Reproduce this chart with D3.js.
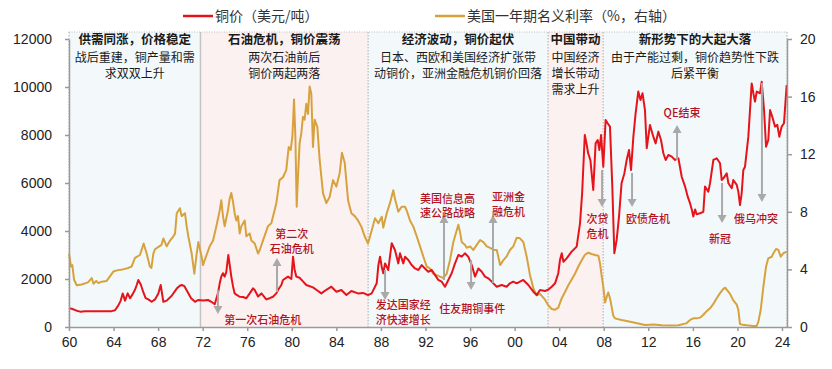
<!DOCTYPE html>
<html>
<head>
<meta charset="utf-8">
<script src="https://cdn.jsdelivr.net/npm/d3@7"></script>
<style>
  body { margin: 0; background: #fff; }
  #chart text { font-family: "Noto Sans CJK SC", "Liberation Sans", sans-serif; }
  #chart .axis text { font-family: "Liberation Sans", Arial, sans-serif; font-size: 14px; fill: #222; }
  #chart .axis path, #chart .axis line { stroke: #9a9a9a; stroke-width: 1.5; }
</style>
</head>
<body>
<div id="chart"></div>
<script>
// DATA
// copper price, USD / t
const copperYears = [
  1960.00, 1960.24, 1960.69, 1961.00, 1961.44, 1962.04, 1962.63, 1963.23, 1963.83, 1964.13,
  1964.43, 1964.64, 1964.82, 1965.03, 1965.27, 1965.48, 1965.69, 1965.92, 1966.08, 1966.22,
  1966.46, 1966.67, 1966.88, 1967.12, 1967.42, 1967.72, 1968.02, 1968.23, 1968.47, 1968.77,
  1969.22, 1969.67, 1969.95, 1970.12, 1970.36, 1970.66, 1970.96, 1971.32, 1971.58, 1972.03,
  1972.48, 1972.78, 1973.08, 1973.37, 1973.53, 1973.67, 1973.82, 1973.97, 1974.12, 1974.30,
  1974.45, 1974.57, 1974.72, 1974.87, 1975.02, 1975.32, 1975.62, 1975.92, 1976.22, 1976.52,
  1976.67, 1976.97, 1977.27, 1977.71, 1978.01, 1978.31, 1978.61, 1978.76, 1979.06, 1979.21,
  1979.66, 1979.96, 1980.11, 1980.25, 1980.40, 1980.70, 1981.00, 1981.30, 1981.90, 1982.20,
  1982.65, 1983.10, 1983.55, 1984.00, 1984.45, 1984.90, 1985.35, 1985.94, 1986.39, 1986.84,
  1987.17, 1987.62, 1987.77, 1987.92, 1988.07, 1988.21, 1988.37, 1988.66, 1988.81, 1988.97,
  1989.26, 1989.41, 1989.56, 1989.71, 1990.01, 1990.16, 1990.46, 1990.76, 1991.06, 1991.36,
  1991.66, 1991.95, 1992.25, 1992.56, 1992.85, 1993.15, 1993.45, 1993.75, 1994.05, 1994.35,
  1994.65, 1994.95, 1995.25, 1995.54, 1995.84, 1996.15, 1996.45, 1996.75, 1997.05, 1997.34,
  1997.64, 1997.94, 1998.39, 1998.84, 1999.28, 1999.58, 1999.88, 2000.19, 2000.48, 2000.78,
  2001.23, 2001.68, 2001.98, 2002.28, 2002.73, 2003.03, 2003.33, 2003.63, 2003.92, 2004.07,
  2004.23, 2004.38, 2004.67, 2005.12, 2005.57, 2005.87, 2006.06, 2006.30, 2006.45, 2006.60,
  2006.80, 2007.06, 2007.27, 2007.46, 2007.61, 2007.76, 2007.96, 2008.17, 2008.35, 2008.56,
  2008.77, 2008.95, 2009.16, 2009.37, 2009.60, 2009.85, 2010.06, 2010.27, 2010.45, 2010.66,
  2010.86, 2011.10, 2011.30, 2011.48, 2011.70, 2011.86, 2012.15, 2012.45, 2012.66, 2012.90,
  2013.14, 2013.35, 2013.56, 2013.80, 2014.10, 2014.40, 2014.70, 2015.00, 2015.30, 2015.54,
  2015.75, 2015.90, 2016.04, 2016.20, 2016.34, 2016.64, 2016.94, 2017.09, 2017.39, 2017.54,
  2017.84, 2018.14, 2018.44, 2018.59, 2018.74, 2019.04, 2019.19, 2019.49, 2019.63, 2019.94,
  2020.08, 2020.23, 2020.38, 2020.53, 2020.68, 2020.98, 2021.28, 2021.43, 2021.58, 2021.73,
  2022.03, 2022.18, 2022.39, 2022.57, 2022.77, 2022.93, 2023.08, 2023.38, 2023.58, 2023.76,
  2023.97, 2024.18, 2024.42
];
const copperPrice = [
  780, 760, 680, 640, 660, 655, 660, 655, 660, 700,
  900, 1100, 1400, 1100, 1400, 1200, 1350, 1550, 1750, 1960,
  1750, 1450, 1200, 1150, 1050, 1150, 1400, 1750, 1050, 1100,
  1300, 1600, 1720, 1750, 1700, 1450, 1200, 1050, 1125, 1100,
  1125, 1050, 950, 1400, 1820, 2100, 2240, 2100, 2300, 3000,
  2500, 2100, 1700, 1400, 1350, 1260, 1250, 1200, 1400, 1610,
  1540, 1270, 1400, 1150, 1200, 1260, 1400, 1540, 1750, 1960,
  2100, 2000, 2930, 2400, 2100, 2050, 1900, 1750, 1650, 1550,
  1400, 1550, 1680, 1470, 1540, 1330, 1500, 1400, 1420, 1330,
  1400, 1820, 2580, 2930, 2510, 2240, 2650, 2375, 2930, 3490,
  3210, 2930, 2650, 3070, 2650, 2930, 2790, 2580, 2440, 2375,
  2580, 2440, 2300, 2375, 2170, 1960, 1890, 1680, 1960, 2240,
  2650, 3000, 2930, 3070, 2930, 2580, 2100, 2440, 2300, 2100,
  2030, 1890, 1680, 1750, 1680, 1820, 1890, 1820, 1890, 1960,
  1750, 1470, 1330, 1540, 1500, 1560, 1680, 1820, 2240, 2790,
  3070, 2720, 2860, 3140, 3350, 4320, 5570, 8000, 7650, 7240,
  6960, 5710, 7650, 7790, 7375, 8000, 6680, 8625, 8490, 8350,
  5850, 3070, 3630, 4600, 5990, 6400, 6960, 7375, 6540, 7930,
  8900, 9810, 9460, 9740, 9040, 7450, 8420, 7930, 7650, 8140,
  7790, 7240, 6960, 7170, 7100, 6960, 7030, 6260, 5850, 5430,
  5150, 4900, 4600, 4900, 4700, 4740, 4800, 5850, 5640, 5990,
  6960, 7030, 6820, 6125, 6195, 6400, 5990, 5780, 6125, 5920,
  5640, 5080, 5570, 6540, 6680, 7930, 10150, 9740, 9390, 9810,
  9740, 10220, 9040, 7510, 7790, 9040, 8830, 8350, 8420, 7930,
  8350, 8490, 10080
];

// US one-year nominal rate, %
const rateYears = [
  1960.00, 1960.18, 1960.30, 1960.45, 1960.69, 1961.14, 1961.70, 1962.04, 1962.20, 1962.45,
  1962.63, 1962.93, 1963.38, 1963.98, 1964.40, 1964.82, 1965.33, 1965.62, 1965.92, 1966.37,
  1966.70, 1966.97, 1967.26, 1967.40, 1967.57, 1967.72, 1968.10, 1968.30, 1968.47, 1968.77,
  1969.07, 1969.37, 1969.52, 1969.67, 1969.96, 1970.11, 1970.41, 1970.56, 1970.71, 1971.01,
  1971.25, 1971.46, 1971.61, 1971.90, 1972.03, 1972.30, 1972.63, 1972.93, 1973.23, 1973.53,
  1973.67, 1973.82, 1973.97, 1974.27, 1974.42, 1974.57, 1974.72, 1974.87, 1975.02, 1975.17,
  1975.32, 1975.47, 1975.77, 1975.92, 1976.22, 1976.37, 1976.67, 1976.97, 1977.12, 1977.41,
  1977.86, 1978.16, 1978.61, 1978.90, 1979.21, 1979.50, 1979.72, 1979.90, 1980.05, 1980.20,
  1980.32, 1980.44, 1980.55, 1980.70, 1980.85, 1981.00, 1981.15, 1981.30, 1981.45, 1981.60,
  1981.75, 1981.90, 1982.05, 1982.29, 1982.50, 1982.80, 1983.10, 1983.40, 1983.70, 1984.00,
  1984.30, 1984.50, 1984.75, 1985.05, 1985.35, 1985.65, 1985.94, 1986.24, 1986.54, 1986.84,
  1987.17, 1987.47, 1987.77, 1988.07, 1988.21, 1988.52, 1988.81, 1989.11, 1989.26, 1989.56,
  1989.86, 1990.16, 1990.31, 1990.61, 1990.91, 1991.21, 1991.51, 1991.80, 1992.11, 1992.40,
  1992.70, 1993.00, 1993.30, 1993.60, 1993.90, 1994.20, 1994.50, 1994.80, 1994.95, 1995.10,
  1995.25, 1995.55, 1995.70, 1996.00, 1996.30, 1996.60, 1996.90, 1997.20, 1997.50, 1997.80,
  1998.10, 1998.40, 1998.70, 1999.00, 1999.28, 1999.58, 1999.88, 2000.19, 2000.48, 2000.78,
  2001.08, 2001.38, 2001.68, 2001.98, 2002.28, 2002.73, 2003.03, 2003.33, 2003.63, 2003.92,
  2004.23, 2004.50, 2004.82, 2005.12, 2005.42, 2005.72, 2006.00, 2006.30, 2006.60, 2006.92,
  2007.22, 2007.52, 2007.67, 2007.82, 2007.96, 2008.12, 2008.27, 2008.41, 2008.56, 2008.71,
  2008.85, 2009.00, 2009.60, 2010.50, 2011.70, 2012.50, 2013.20, 2014.00, 2014.70, 2015.40,
  2015.75, 2016.04, 2016.34, 2016.64, 2016.94, 2017.24, 2017.54, 2017.84, 2018.14, 2018.44,
  2018.74, 2018.90, 2019.04, 2019.34, 2019.63, 2019.94, 2020.08, 2020.23, 2020.50, 2020.83,
  2021.43, 2021.73, 2021.88, 2022.09, 2022.33, 2022.57, 2022.77, 2023.08, 2023.23, 2023.47,
  2023.67, 2023.89, 2024.12, 2024.42
];
const rateValue = [
  5.1, 4.2, 4.3, 3.3, 2.9, 2.95, 3.1, 3.4, 3.0, 3.2,
  3.05, 3.15, 3.2, 3.85, 3.95, 4.0, 4.1, 4.2, 4.8, 5.0,
  5.8, 5.1, 4.2, 4.1, 5.1, 5.4, 5.6, 5.7, 6.15, 5.6,
  6.0, 6.3, 6.5, 7.9, 8.25, 7.7, 7.9, 7.0, 6.3, 5.1,
  3.7, 5.1, 5.9, 4.9, 4.3, 4.9, 5.6, 6.0, 7.0, 8.1,
  8.8, 7.7, 7.0, 8.1, 8.9, 9.3, 8.7, 7.9, 7.4, 7.7,
  6.5, 7.0, 7.4, 6.3, 6.5, 6.0, 5.8, 5.1, 5.35, 6.0,
  7.0, 7.2, 8.6, 10.2, 10.4, 10.9, 12.5, 12.3, 13.2, 15.8,
  13.2, 8.35, 10.4, 12.75, 13.45, 14.6, 14.4, 15.5, 14.8, 16.7,
  16.2, 12.5, 14.4, 13.9, 11.6, 9.3, 8.6, 9.05, 10.2, 9.75,
  10.7, 12.1, 11.4, 8.8, 7.9, 7.7, 7.4, 6.97, 6.3, 5.8,
  6.7, 7.55, 7.2, 7.66, 6.9, 7.9, 8.6, 9.5, 8.9, 8.0,
  8.35, 8.35, 8.1, 7.4, 6.97, 6.3, 5.6, 4.9, 4.2, 4.07,
  3.7, 3.6, 3.5, 3.4, 3.7, 4.65, 5.9, 6.7, 7.1, 6.6,
  5.9, 5.7, 5.5, 5.6, 5.35, 5.7, 6.04, 5.9, 5.6, 5.5,
  5.35, 5.35, 4.3, 4.65, 4.9, 5.35, 5.6, 6.2, 6.16, 5.9,
  4.9, 3.6, 2.7, 2.2, 2.3, 1.9, 1.5, 1.25, 1.2, 1.35,
  2.0, 2.4, 2.9, 3.3, 3.7, 4.2, 4.6, 5.0, 5.16, 5.07,
  5.0, 4.95, 4.4, 3.5, 2.8, 1.7, 2.1, 2.4, 2.0, 1.4,
  0.8, 0.6, 0.49, 0.35, 0.14, 0.18, 0.12, 0.1, 0.12, 0.25,
  0.49, 0.6, 0.6, 0.65, 0.85, 1.1, 1.3, 1.6, 2.0, 2.35,
  2.65, 2.73, 2.6, 2.3, 1.85, 1.55, 1.2, 0.2, 0.16, 0.12,
  0.07, 0.07, 0.37, 1.18, 2.8, 4.19, 4.77, 4.88, 5.12, 5.42,
  5.35, 4.88, 5.12, 5.23
];

// axes
const yearTicks = d3.range(1960, 2025, 4);
const copperTicks = [0, 2000, 4000, 6000, 8000, 10000, 12000];
const rateTicks = [0, 4, 8, 12, 16, 20];

// phases
const phaseBreaks = [1960, 1971.8, 1986.85, 2003, 2007.95, 2024.45];
const phaseTitles = ["供需同涨，价格稳定", "石油危机，铜价震荡", "经济波动，铜价起伏", "中国带动", "新形势下的大起大落"];
const phaseNotes = [
  ["战后重建，铜产量和需", "求双双上升"],
  ["两次石油前后", "铜价两起两落"],
  ["日本、西欧和美国经济扩张带", "动铜价，亚洲金融危机铜价回落"],
  ["中国经济", "增长带动", "需求上升"],
  ["由于产能过剩，铜价趋势性下跌", "后紧平衡"]
];

// events: arrow at year, from/to on the copper axis, label centre (year, copper)
const events = [
  { lines: ["第一次石油危机"], year: 1973.37, from: 1540, to: 540, ty: 1977.4, tv: 290 },
  { lines: ["第二次", "石油危机"], year: 1978.67, from: 1460, to: 2875, ty: 1980.0, tv: 3850 },
  { lines: ["发达国家经", "济快速增长"], year: 1988.37, from: 2375, to: 1125, ty: 1990.0, tv: 900 },
  { lines: ["美国信息高", "速公路战略"], year: 1993.66, from: 1960, to: 4670, ty: 1993.97, tv: 5330 },
  { lines: ["亚洲金", "融危机"], year: 1998.06, from: 1830, to: 4670, ty: 1999.45, tv: 5400 },
  { lines: ["住友期铜事件"], year: 1996.09, from: 2790, to: 1540, ty: 1996.2, tv: 750 },
  { lines: ["次贷", "危机"], year: 2007.85, from: 6540, to: 5000, ty: 2007.44, tv: 4480 },
  { lines: ["欧债危机"], year: 2010.54, from: 6420, to: 5000, ty: 2011.97, tv: 4500 },
  { lines: ["QE结束"], year: 2014.58, from: 6960, to: 8420, ty: 2015.03, tv: 8920 },
  { lines: ["新冠"], year: 2018.62, from: 6000, to: 4330, ty: 2018.44, tv: 3670 },
  { lines: ["俄乌冲突"], year: 2022.2, from: 10170, to: 5210, ty: 2021.67, tv: 4500 }
];

const RED = "#e5141b";
const GOLD = "#d7a23d";
const NOTE_RED = "#b3121f";
const ARROW_GREY = "#a9a9a9";

const WIDTH = 832;
const HEIGHT = 369;
const LEFT = 69, RIGHT = 787, TOP = 39, BOTTOM = 327, BOX_TOP = 32;

const SVG = d3.select("#chart").append("svg")
  .attr("width", WIDTH)
  .attr("height", HEIGHT);

const X = d3.scaleLinear().domain([1960, 2024.45]).range([LEFT, RIGHT]);
const Y_COPPER = d3.scaleLinear().domain([0, 12000]).range([BOTTOM, TOP]);
const Y_RATE = d3.scaleLinear().domain([0, 20]).range([BOTTOM, TOP]);

// PHASE BACKGROUNDS
const phases = phaseTitles.map((t, i) => ({
  title: t, notes: phaseNotes[i], start: phaseBreaks[i], end: phaseBreaks[i + 1], pink: i % 2 === 1
}));

SVG.append("g").selectAll("rect")
  .data(phases)
  .enter().append("rect")
  .attr("x", d => X(d.start))
  .attr("y", BOX_TOP)
  .attr("width", d => X(d.end) - X(d.start))
  .attr("height", BOTTOM - BOX_TOP)
  .attr("fill", d => d.pink ? "#fcf1f1" : "#f3f9fa");

// dotted frame of the phases
SVG.append("line")
  .attr("x1", LEFT).attr("x2", RIGHT)
  .attr("y1", BOX_TOP).attr("y2", BOX_TOP)
  .attr("stroke", "#bdbdbd").attr("stroke-width", 1)
  .attr("stroke-dasharray", "1,1.5");

SVG.append("g").selectAll("line")
  .data(phaseBreaks)
  .enter().append("line")
  .attr("x1", d => X(d)).attr("x2", d => X(d))
  .attr("y1", BOX_TOP).attr("y2", BOTTOM)
  .attr("stroke", (d, i) => i === 1 ? "#c4c4c4" : "#b8b8b8")
  .attr("stroke-width", (d, i) => i === 1 ? 1.5 : 1.2)
  .attr("stroke-dasharray", (d, i) => i === 1 ? null : "1.5,1.5");

// SERIES
const rateLine = d3.line()
  .x(d => X(d[0]))
  .y(d => Y_RATE(d[1]));
const copperLine = d3.line()
  .x(d => X(d[0]))
  .y(d => Y_COPPER(d[1]));

SVG.append("path")
  .datum(d3.zip(rateYears, rateValue))
  .attr("d", rateLine)
  .attr("fill", "none")
  .attr("stroke", GOLD)
  .attr("stroke-width", 2)
  .attr("stroke-linejoin", "round");

SVG.append("path")
  .datum(d3.zip(copperYears, copperPrice))
  .attr("d", copperLine)
  .attr("fill", "none")
  .attr("stroke", RED)
  .attr("stroke-width", 2)
  .attr("stroke-linejoin", "round");

// AXES
SVG.append("g")
  .attr("class", "axis")
  .attr("transform", `translate(${LEFT},0)`)
  .call(d3.axisLeft(Y_COPPER).tickValues(copperTicks).tickSize(4).tickPadding(13).tickSizeOuter(0)
    .tickFormat(d3.format("d")));

SVG.append("g")
  .attr("class", "axis")
  .attr("transform", `translate(${RIGHT},0)`)
  .call(d3.axisRight(Y_RATE).tickValues(rateTicks).tickSize(5).tickPadding(8).tickSizeOuter(0));

SVG.append("g")
  .attr("class", "axis")
  .attr("transform", `translate(0,${BOTTOM})`)
  .call(d3.axisBottom(X).tickValues(yearTicks).tickSize(4).tickPadding(6).tickSizeOuter(0)
    .tickFormat(d => String(d).slice(2)));

// EVENT ARROWS
const arrows = SVG.append("g");
events.forEach(e => {
  const x = X(e.year);
  const y0 = Y_COPPER(e.from);
  const y1 = Y_COPPER(e.to);
  const dir = y1 > y0 ? 1 : -1;
  const head = 8;
  arrows.append("line")
    .attr("x1", x).attr("x2", x)
    .attr("y1", y0).attr("y2", y1 - dir * head)
    .attr("stroke", ARROW_GREY)
    .attr("stroke-width", 2);
  arrows.append("path")
    .attr("d", `M${x - 4.5},${y1 - dir * head} L${x + 4.5},${y1 - dir * head} L${x},${y1} Z`)
    .attr("fill", ARROW_GREY);
});

// EVENT LABELS (one text per line)
events.forEach(e => {
  e.lines.forEach((line, i) => {
    SVG.append("text")
      .attr("x", X(e.ty))
      .attr("y", Y_COPPER(e.tv) + i * 14.5)
      .attr("dy", "0.35em")
      .attr("text-anchor", "middle")
      .attr("font-size", 11)
      .attr("font-weight", 500)
      .attr("fill", NOTE_RED)
      .text(line);
  });
});

// PHASE TEXTS (one text per line; bold title, then the notes)
phases.forEach(p => {
  const cx = (X(p.start) + X(p.end)) / 2;
  [p.title].concat(p.notes).forEach((line, i) => {
    SVG.append("text")
      .attr("x", cx)
      .attr("y", i === 0 ? 40 : 41.5 + i * 16)
      .attr("dy", "0.35em")
      .attr("text-anchor", "middle")
      .attr("font-size", i === 0 ? 12.5 : 12)
      .attr("font-weight", i === 0 ? "bold" : null)
      .attr("fill", "#1a1a1a")
      .text(line);
  });
});

// LEGEND
const legendItems = [
  { label: "铜价（美元/吨）", color: RED, x: 183 },
  { label: "美国一年期名义利率（%，右轴）", color: GOLD, x: 435 }
];
legendItems.forEach(l => {
  SVG.append("line")
    .attr("x1", l.x).attr("x2", l.x + 30)
    .attr("y1", 16).attr("y2", 16)
    .attr("stroke", l.color)
    .attr("stroke-width", 2.5);
  SVG.append("text")
    .attr("x", l.x + 32)
    .attr("y", 16)
    .attr("dy", "0.35em")
    .attr("font-size", 14)
    .attr("fill", "#333")
    .text(l.label);
});
</script>
</body>
</html>
